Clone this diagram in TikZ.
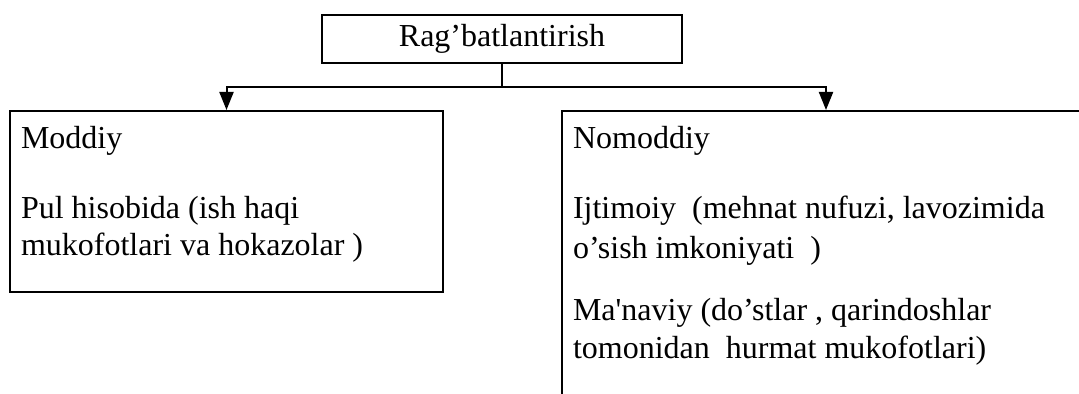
\documentclass[tikz,border=0pt]{standalone}
\usepackage{fontspec}
\setmainfont{Liberation Serif}
\usetikzlibrary{arrows.meta,positioning}

\begin{document}
\begin{tikzpicture}[
    x=0.5pt, y=-0.5pt,
    line width=1pt,
    font=\fontsize{16}{18.5}\selectfont,
    box/.style={draw, rectangle, inner sep=0pt},
    box text/.style={anchor=north west, align=left, inner sep=0pt},
    feed/.style={-{Triangle[width=7pt,length=9pt]}}
  ]
  \clip (0,0) rectangle (1079,394);
  \node [box, minimum width=180pt, minimum height=24pt] (root) at (502,39) {Rag’batlantirish};
  \node [box, minimum width=216.5pt, minimum height=90.5pt] (moddiy) at (226.5,201.5) {};
  \node [box, minimum width=264pt, minimum height=160pt] (nomoddiy) at (826,271) {};
  \coordinate (split) at (502,87);
  \draw (root.south) -- (split);
  \draw [feed] (split) -| (moddiy.north);
  \draw [feed] (split) -| (nomoddiy.north);
  \node [box text] (moddiy text) at (20,122)
    {\strut Moddiy\\[16.5pt]Pul hisobida (ish haqi\\mukofotlari va hokazolar )};
  \node [box text] (nomoddiy text) at (572,122)
    {\strut Nomoddiy\\[16.5pt]Ijtimoiy\ \ (mehnat nufuzi, lavozimida\\[1.5pt]o’sish imkoniyati\ \ )\\[12.5pt]%
     Ma\textquotesingle naviy (do’stlar , qarindoshlar\\[0.5pt]tomonidan\ \ hurmat mukofotlari)};
\end{tikzpicture}
\end{document}
